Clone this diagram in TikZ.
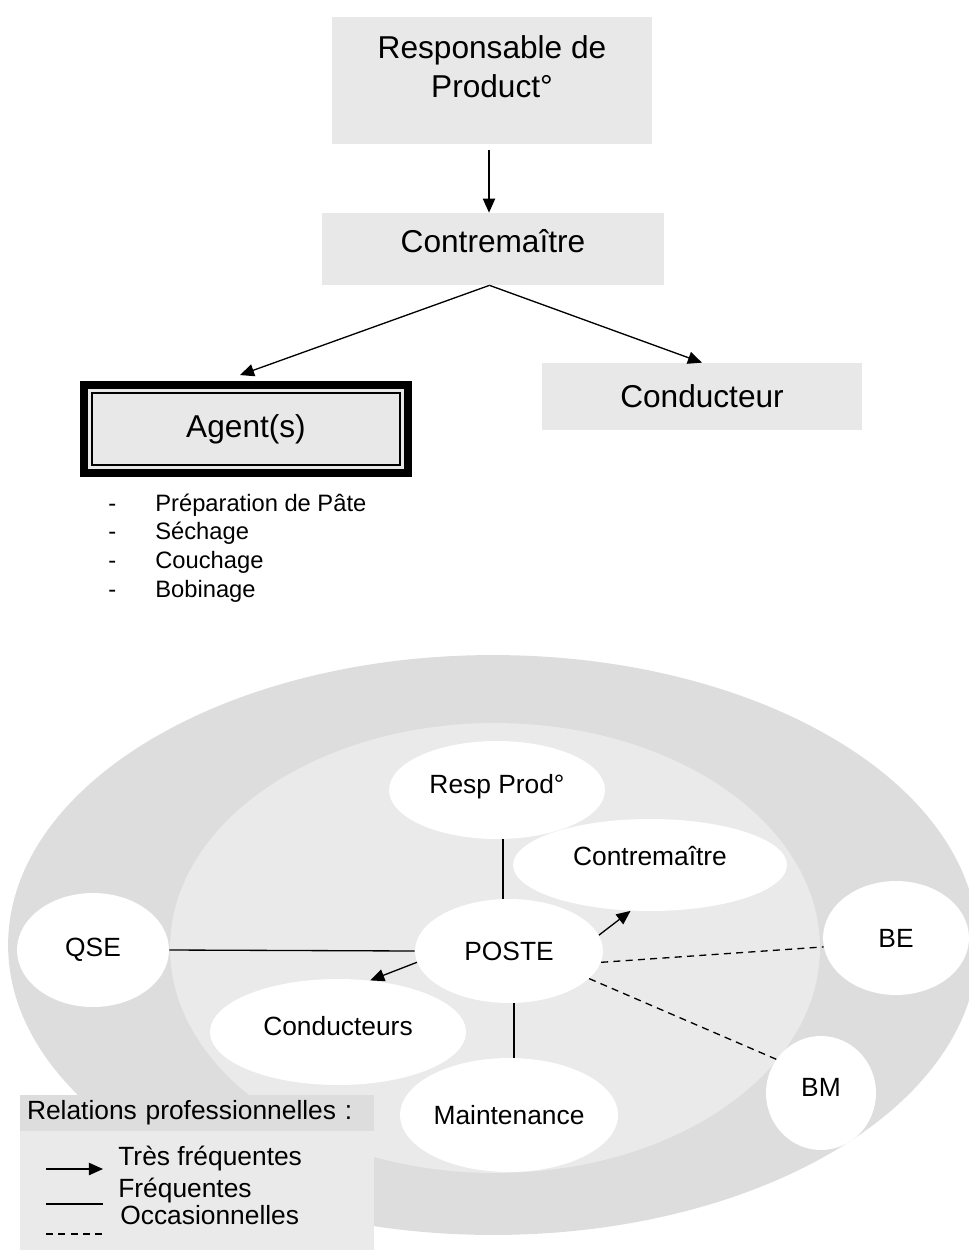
\documentclass[tikz,border=0pt]{standalone}
\usepackage{fontspec}
\setmainfont{Liberation Sans}
\usetikzlibrary{arrows.meta,positioning,calc,shapes.geometric}
\definecolor{ringout}{RGB}{221,221,221}
\definecolor{ringin}{RGB}{234,234,234}
\definecolor{boxg}{RGB}{232,232,232}
\tikzset{
  topbox/.style={fill=boxg,inner sep=0pt,align=center,font=\fontsize{18}{22.5}\selectfont},
  agentbox/.style={topbox,draw=black,line width=4.5pt},
  bubble/.style={ellipse,fill=white,inner sep=0pt,font=\fontsize{15}{18}\selectfont},
  lifted/.style={text height=12pt,text depth=8pt},
  item/.style={inner sep=0pt,font=\fontsize{13.5}{16}\selectfont},
  lgtxt/.style={inner sep=0pt,font=\fontsize{15}{18}\selectfont},
  arr/.style={-{Triangle[length=8pt,width=7pt]},line width=0.75pt},
  rel/.style={line width=0.75pt},
  occ/.style={rel,dash pattern=on 4pt off 3pt},
}
\begin{document}
\begin{tikzpicture}[x=0.02cm,y=-0.02cm]
  \useasboundingbox (0,0) rectangle (969,1250);

  \node[topbox,minimum width=6.4cm,minimum height=2.54cm] (resp) at (492,80.5)
     {Responsable de\\Product°\\[-6.5pt]\mbox{}};
  \node[topbox,minimum width=6.84cm,minimum height=1.44cm,text height=13pt,text depth=9pt] (cm) at (493,249) {Contremaître};
  \node[agentbox,minimum width=6.48cm,minimum height=1.76cm] (ag) at (246,429) {Agent(s)};
  \draw[line width=0.8pt] ($(ag.north west)+(12,12)$) rectangle ($(ag.south east)+(-12,-12)$);
  \node[topbox,minimum width=6.4cm,minimum height=1.34cm] (cdr) at (702,396.5) {Conducteur};
  \draw[arr,shorten <=3.4pt] ([xshift=-1.7pt]resp.south) -- ([xshift=-1.7pt]resp.south |- cm.north);
  \draw[arr] ([xshift=-2pt]cm.south) -- ($(ag.north)+(-6,-6)$);
  \draw[arr] ([xshift=-2pt]cm.south) -- (cdr.north);
  \foreach \txt [count=\i] in {Préparation de Pâte,Séchage,Couchage,Bobinage}{
    \node[item,anchor=base west] (d\i) at (108,482.3+28.7*\i) {-};
    \node[item,anchor=base west] (it\i) at (155,482.3+28.7*\i) {\txt};
  }

  \fill[ringout] (493,945) ellipse [x radius=9.7cm,y radius=5.8cm];
  \fill[ringin] (495,948) ellipse [x radius=6.5cm,y radius=4.5cm];
  \node[bubble,lifted,minimum width=4.32cm,minimum height=1.96cm] (rp) at (497,790) {Resp Prod°};
  \node[bubble,text height=12pt,text depth=12pt,minimum width=5.48cm,minimum height=1.84cm] (ct) at (650,865) {Contremaître};
  \node[bubble,minimum width=3.76cm,minimum height=2.08cm] (poste) at (509,951) {POSTE};
  \node[bubble,minimum width=3.04cm,minimum height=2.28cm] (qse) at (93,950) {QSE};
  \node[bubble,lifted,minimum width=5.12cm,minimum height=2.12cm] (cd) at (338,1032) {Conducteurs};
  \node[bubble,minimum width=4.36cm,minimum height=2.28cm] (mt) at (509,1115) {Maintenance};
  \node[bubble,minimum width=2.92cm,minimum height=2.28cm] (be) at (896,938) {BE};
  \node[bubble,lifted,minimum width=2.2cm,minimum height=2.28cm] (bm) at (821,1093) {BM};

  \draw[rel] ([xshift=-3.4pt]poste.north) -- ([xshift=-3.4pt]poste.north |- rp.south);
  \draw[rel] (qse.east) -- (poste.west);
  \draw[rel] ([xshift=2.8pt]poste.south) -- ([xshift=2.8pt]poste.south |- mt.north);
  \draw[arr] (poste.10) -- (ct.247);
  \draw[arr] (poste.187) -- (cd.58);
  \draw[occ] (poste.353) -- (be.187);
  \draw[occ] (poste.341) -- (bm.143);

  \node[lgtxt,fill=ringout,text width=6.8cm,inner xsep=0.14cm,minimum height=0.72cm,align=left]
     (lgh) at (197,1113) {Relations professionnelles :};
  \node[fill=ringin,inner sep=0pt,minimum width=7.08cm,minimum height=2.38cm] (lgb) at (197,1190.5) {};
  \node[lgtxt,anchor=base west] (l1) at (118,1165) {Très fréquentes};
  \node[lgtxt,anchor=base west] (l2) at (118,1197) {Fréquentes};
  \node[lgtxt,anchor=base west] (l3) at (120,1224) {Occasionnelles};
  \coordinate (a1) at (46,1169); \coordinate (b1) at (103,1169);
  \coordinate (a2) at (46,1204); \coordinate (b2) at (103,1204);
  \coordinate (a3) at (46,1234); \coordinate (b3) at (105,1234);
  \draw[arr] (a1) -- (b1);
  \draw[rel] (a2) -- (b2);
  \draw[occ] (a3) -- (b3);
\end{tikzpicture}
\end{document}
